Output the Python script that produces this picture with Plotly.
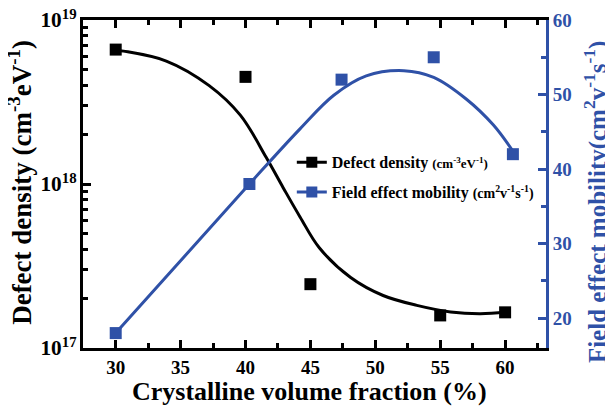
import plotly.graph_objects as go

# ---- data ----
defect_x = [30, 40, 45, 55, 60]
defect_y = [6.6e18, 4.5e18, 2.45e17, 1.58e17, 1.65e17]

mobility_x = [30, 40.3, 47.4, 54.5, 60.6]
mobility_y = [18, 38, 52, 55, 42]

# fitted guide curves
defect_fit_x = [30, 30.6, 33.9, 37.2, 39.6, 41.6, 42.9, 44.2, 45.7, 48.1, 50.6, 53.2, 55.8, 58.1, 60.1]
defect_fit_y = [6.55e18, 6.46e18, 5.62e18, 3.98e18, 2.63e18, 1.45e18, 9.5e17, 6.3e17,
                4.07e17, 2.69e17, 2.09e17, 1.82e17, 1.66e17, 1.62e17, 1.66e17]

mobility_fit_x = [30, 40.3, 44.2, 46.8, 49.3, 52.2, 54.5, 57.0, 59.1, 60.6]
mobility_fit_y = [18, 38, 45.4, 49.9, 52.5, 53.2, 52.3, 49.4, 45.9, 42.4]

x_tick_start, x_tick_step, x_minor_step = 30, 5, 2.5
right_tick_start, right_tick_step, right_minor_step = 0, 10, 5

x_title = "Crystalline volume fraction (%)"
left_title = "Defect density (cm<sup>-3</sup>eV<sup>-1</sup>)"
right_title = "Field effect mobility(cm<sup>2</sup>v<sup>-1</sup>s<sup>-1</sup>)"

BLUE = "#2F51A7"
FONT = "Liberation Serif"

fig = go.Figure()

fig.add_trace(go.Scatter(x=defect_fit_x, y=defect_fit_y, mode="lines",
                         line=dict(color="black", width=3, shape="spline"),
                         showlegend=False, hoverinfo="skip"))
fig.add_trace(go.Scatter(x=defect_x, y=defect_y, mode="markers",
                         marker=dict(symbol="square", size=12, color="black"),
                         showlegend=False))
fig.add_trace(go.Scatter(x=mobility_fit_x, y=mobility_fit_y, mode="lines", yaxis="y2",
                         line=dict(color=BLUE, width=3, shape="spline"),
                         showlegend=False, hoverinfo="skip"))
fig.add_trace(go.Scatter(x=mobility_x, y=mobility_y, mode="markers", yaxis="y2",
                         marker=dict(symbol="square", size=12, color=BLUE),
                         showlegend=False))

# legend entries
fig.add_trace(go.Scatter(x=[None], y=[None], mode="lines+markers", legendgroup="a",
                         line=dict(color="black", width=3),
                         marker=dict(symbol="square", size=11, color="black"),
                         name="Defect density <span style='font-size:13px'>(cm<sup>-3</sup>eV<sup>-1</sup>)</span>"))
fig.add_trace(go.Scatter(x=[None], y=[None], mode="lines+markers", legendgroup="b", yaxis="y2",
                         line=dict(color=BLUE, width=3),
                         marker=dict(symbol="square", size=11, color=BLUE),
                         name="Field effect mobility <span style='font-size:14px'>(cm<sup>2</sup>v<sup>-1</sup>s<sup>-1</sup>)</span>"))

# the page body adds an 8 px margin, so the figure is 8 px smaller each way
fig.update_layout(
    width=605, height=400,
    margin=dict(l=75, r=67, t=12, b=60, autoexpand=False),
    paper_bgcolor="white", plot_bgcolor="white",
    font=dict(family=FONT, size=16, color="black"),
    showlegend=True,
    legend=dict(x=0.451, y=0.618, xanchor="left", yanchor="top",
                bgcolor="rgba(0,0,0,0)", tracegroupgap=6,
                font=dict(family=FONT, size=16, color="black", weight="bold")),
    xaxis=dict(
        range=[27.48, 63.15], tickmode="linear", tick0=x_tick_start, dtick=x_tick_step,
        automargin=False, ticklabeloverflow="allow",
        ticks="inside", ticklen=8, tickwidth=2.5, tickcolor="black",
        showline=True, linecolor="black", linewidth=3, mirror="ticks",
        showgrid=False, zeroline=False,
        minor=dict(dtick=x_minor_step, ticks="inside", ticklen=5, tickwidth=2.5, tickcolor="black"),
        tickfont=dict(family=FONT, size=19, color="black", weight="bold"),
    ),
    yaxis=dict(
        type="log", range=[17, 19], dtick=1, exponentformat="power",
        automargin=False, ticklabeloverflow="allow",
        ticks="inside", ticklen=8, tickwidth=2.5, tickcolor="black",
        showline=True, linecolor="black", linewidth=3,
        showgrid=False, zeroline=False,
        minor=dict(dtick="D1", ticks="inside", ticklen=5, tickwidth=2.5, tickcolor="black"),
        tickfont=dict(family=FONT, size=17, color="black", weight="bold"),
    ),
    yaxis2=dict(
        overlaying="y", side="right", range=[16, 60], tickmode="linear",
        tick0=right_tick_start, dtick=right_tick_step,
        automargin=False, ticklabeloverflow="allow",
        ticks="inside", ticklen=8, tickwidth=2.5, tickcolor=BLUE,
        showline=True, linecolor=BLUE, linewidth=3,
        showgrid=False, zeroline=False,
        minor=dict(dtick=right_minor_step, ticks="inside", ticklen=5,
                   tickwidth=2.5, tickcolor=BLUE),
        tickfont=dict(family=FONT, size=19, color=BLUE, weight="bold"),
    ),
    annotations=[
        dict(text=x_title, xref="paper", yref="paper", x=0.49, y=-0.134,
             xanchor="center", yanchor="middle", showarrow=False,
             font=dict(family=FONT, size=26, color="black", weight="bold")),
        dict(text=left_title, xref="paper", yref="paper", x=-0.135, y=0.505,
             xanchor="center", yanchor="middle", showarrow=False, textangle=-90,
             font=dict(family=FONT, size=27, color="black", weight="bold")),
        dict(text=right_title, xref="paper", yref="paper", x=1.106, y=0.445,
             xanchor="center", yanchor="middle", showarrow=False, textangle=-90,
             font=dict(family=FONT, size=25, color=BLUE, weight="bold")),
    ],
)

fig.write_html("out.html")
